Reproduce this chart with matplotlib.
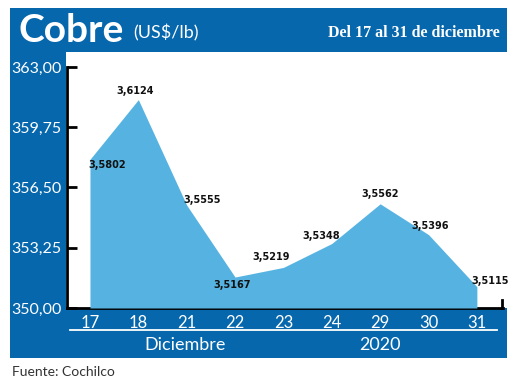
import matplotlib
matplotlib.use("Agg")
import matplotlib.pyplot as plt
from matplotlib.patches import Rectangle
from matplotlib.lines import Line2D

# data
dias = ["17", "18", "21", "22", "23", "24", "29", "30", "31"]
precios = [3.5802, 3.6124, 3.5555, 3.5167, 3.5219, 3.5348, 3.5562, 3.5396, 3.5115]
y_ticks = [350.00, 353.25, 356.50, 359.75, 363.00]
# label offsets in pixels (dx, dy) from each point
offsets = [(17, -6), (-3, 9), (15, 5), (-3, -8), (-12, 10), (-11, 7), (0, 10), (2, 9), (13, 6)]

W, H = 520, 385
azul = "#0667ad"
celeste = "#56b3e1"

fig = plt.figure(figsize=(W / 100, H / 100), dpi=100)


def box(x0, y0, x1, y1):
    # pixel coords (top origin) -> figure fractions
    return (x0 / W, 1 - y1 / H, (x1 - x0) / W, (y1 - y0) / H)


def rect(x0, y0, x1, y1, color):
    l, b, w, h = box(x0, y0, x1, y1)
    fig.add_artist(Rectangle((l, b), w, h, transform=fig.transFigure,
                             facecolor=color, edgecolor="none", zorder=0))


rect(10, 8, 507, 358, azul)
rect(66, 52, 507, 308, "white")

ax = fig.add_axes(box(67, 67, 503, 308))
ax.set_facecolor("none")
x = list(range(len(dias)))
y = [p * 100 for p in precios]
ax.fill_between(x, 350, y, color=celeste, lw=0, zorder=3)
ax.set_xlim(-0.475, 8.54)
ax.set_ylim(350, 363)

for i, p in enumerate(precios):
    dx, dy = offsets[i]
    ax.annotate(f"{p:.4f}".replace(".", ","), (i, y[i]),
                xytext=(dx * 0.72, dy * 0.72), textcoords="offset points",
                ha="center", va="center", fontsize=7, fontweight="bold",
                family=["Liberation Sans Narrow", "DejaVu Sans"], color="#111111",
                zorder=5)

for s in ["top", "right"]:
    ax.spines[s].set_visible(False)
ax.spines["left"].set_linewidth(2)
ax.spines["bottom"].set_linewidth(2)
ax.spines["bottom"].set_zorder(2)

ax.set_yticks(y_ticks)
ax.set_yticklabels([f"{v:.2f}".replace(".", ",") for v in y_ticks])
ax.tick_params(axis="y", direction="in", length=7, width=2, pad=4,
               labelsize=11.5, labelcolor="white")
ax.set_xticks(x)
ax.set_xticklabels(dias)
ax.tick_params(axis="x", length=0, pad=5, labelsize=12, labelcolor="white")
for t in ax.get_xticklabels() + ax.get_yticklabels():
    t.set_family("Lato")

# small end tick on x axis
ax.plot([8.52, 8.52], [350, 350.45], color="black", lw=2, clip_on=False, zorder=2)

# header
fig.text(19 / W, 1 - 30 / H, "Cobre", color="white", fontsize=28, fontweight="bold",
         family="Lato", va="center", ha="left")
fig.text(133 / W, 1 - 33 / H, "(US$/lb)", color="white", fontsize=13,
         family="Lato", va="center", ha="left")
fig.text(500 / W, 1 - 33 / H, "Del 17 al 31 de diciembre", color="white", fontsize=11.5,
         family="Liberation Serif", fontweight="bold", va="center", ha="right")

# bottom band
fig.add_artist(Line2D([70 / W, 497 / W], [1 - 330 / H] * 2, color="white", lw=1.3,
                      transform=fig.transFigure))
fig.text(185 / W, 1 - 345 / H, "Diciembre", color="white", fontsize=13,
         family="Lato", va="center", ha="center")
fig.text(380 / W, 1 - 345 / H, "2020", color="white", fontsize=13,
         family="Lato", va="center", ha="center")

fig.text(12 / W, 1 - 372 / H, "Fuente: Cochilco", color="#333333", fontsize=10,
         family="Lato", va="center", ha="left")

fig.savefig("out.png", dpi=100)
